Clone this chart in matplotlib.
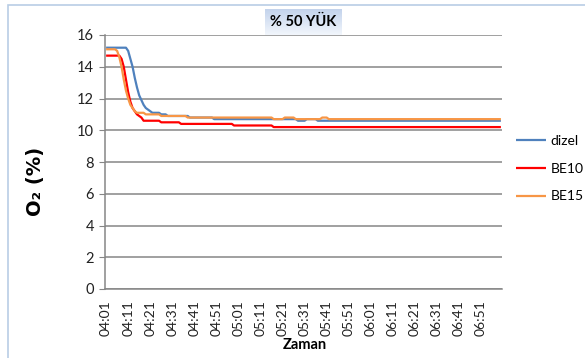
import matplotlib
matplotlib.use("Agg")
import matplotlib.pyplot as plt
import numpy as np
from matplotlib.patches import Rectangle

plt.rcParams["font.family"] = ["Lato", "DejaVu Sans"]

# O2 readings sampled every second, stored as (value, number of samples) runs
DIZEL_RUNS = [
    (15.2, 10), (15.0, 1), (14.5, 1), (14.0, 1), (13.3, 1), (12.7, 1), (12.2, 1),
    (11.9, 1), (11.6, 1), (11.4, 1), (11.3, 1), (11.2, 1), (11.1, 4), (11.0, 3),
    (10.9, 10), (10.8, 11), (10.7, 38), (10.6, 4), (10.7, 5), (10.6, 84),
]
BE10_RUNS = [
    (14.7, 7), (14.5, 1), (14.0, 1), (13.2, 1), (12.4, 1), (11.8, 1), (11.4, 1),
    (11.2, 1), (11.0, 1), (10.9, 1), (10.8, 1), (10.6, 8), (10.5, 9), (10.4, 24),
    (10.3, 18), (10.2, 104),
]
BE15_RUNS = [
    (15.1, 5), (15.0, 1), (14.6, 1), (14.0, 1), (13.2, 1), (12.5, 1), (12.0, 1),
    (11.6, 1), (11.4, 1), (11.2, 1), (11.1, 4), (11.0, 7), (10.9, 12), (10.8, 39),
    (10.7, 5), (10.8, 5), (10.7, 12), (10.8, 3), (10.7, 79),
]
SERIES = ["dizel", "BE10", "BE15"]
COLORS = ["#4F81BD", "#FF0000", "#F79646"]

START_S = 4 * 60 + 1          # 04:01
N_SAMPLES = 180
TICK_STEP = 10


def expand(runs):
    vals, counts = zip(*runs)
    return np.repeat(vals, counts)


times = [f"{(START_S + i) // 60:02d}:{(START_S + i) % 60:02d}" for i in range(N_SAMPLES)]
data = [expand(r) for r in (DIZEL_RUNS, BE10_RUNS, BE15_RUNS)]

W, H = 585, 358
fig = plt.figure(figsize=(W / 100, H / 100), dpi=100)
fig.patch.set_facecolor("white")

# chart frame (light blue border)
fig.patches.append(Rectangle((8 / W, -0.1), 1.1, (H - 5) / H + 0.1,
                             transform=fig.transFigure, fill=False,
                             edgecolor="#B9CDE5", linewidth=1.2))

ax = fig.add_axes([105 / W, 1 - 289 / H, (502 - 105) / W, (289 - 35) / H])
x = np.arange(N_SAMPLES)
for vals, name, color in zip(data, SERIES, COLORS):
    ax.plot(x, vals, color=color, linewidth=1.6, label=name,
            solid_joinstyle="round", solid_capstyle="butt", zorder=3)

ax.set_xlim(-0.5, N_SAMPLES - 0.5)
ax.set_ylim(0, 16)
ax.set_yticks(np.arange(0, 17, 2))
ax.set_xticks(x[::TICK_STEP])
ax.set_xticklabels(times[::TICK_STEP], rotation=90, fontsize=10, color="#222222")
ax.tick_params(axis="x", length=0, pad=8)
ax.tick_params(axis="y", length=4, color="#868686", labelsize=10.5, labelcolor="#222222", pad=4)
ax.grid(axis="y", color="#868686", linewidth=1.1, zorder=0)
for side in ("top", "right"):
    ax.spines[side].set_visible(False)
for side in ("left", "bottom"):
    ax.spines[side].set_color("#868686")
    ax.spines[side].set_linewidth(1.1)

fig.text(35 / W, 1 - 181 / H, "O\u2082 (%)", rotation=90, ha="center", va="center",
         fontsize=14, fontweight="bold", family=["DejaVu Sans"])
fig.text(305 / W, 1 - 345 / H, "Zaman", ha="center", va="center",
         fontsize=10.5, fontweight="bold")

# title box with a soft blue gradient
tax = fig.add_axes([265 / W, 1 - 35 / H, (342 - 265) / W, (35 - 9) / H])
grad = np.linspace(0, 1, 50).reshape(-1, 1)
tax.imshow(grad, aspect="auto", cmap=matplotlib.colors.LinearSegmentedColormap.from_list(
    "tb", ["#C3D3EC", "#F2F6FC"]), extent=[0, 1, 0, 1])
tax.set_axis_off()
tax.text(0.5, 0.5, "% 50 YÜK", ha="center", va="center", fontsize=10.5,
         fontweight="bold", transform=tax.transAxes)

fig.legend(loc="upper left", bbox_to_anchor=(510 / W, 1 - 129 / H), frameon=False,
           fontsize=10, handlelength=2.2, handletextpad=0.3, labelspacing=1.15,
           borderaxespad=0)

fig.savefig("out.png", dpi=100)
